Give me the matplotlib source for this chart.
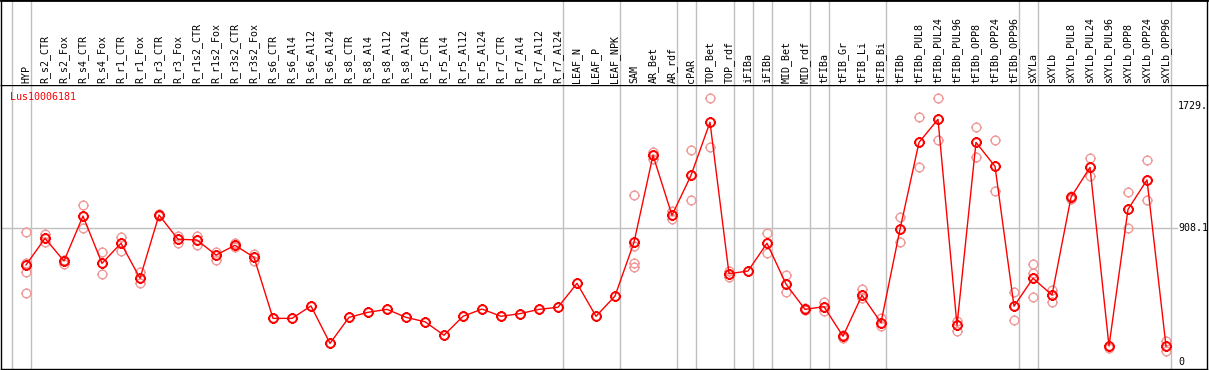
import matplotlib
matplotlib.use('Agg')
import matplotlib.pyplot as plt
from matplotlib.path import Path
import numpy as np

gene = "Lus10006181"

samples = [
    "HYP", "R_s2_CTR", "R_s2_Fox", "R_s4_CTR", "R_s4_Fox", "R_r1_CTR", "R_r1_Fox",
    "R_r3_CTR", "R_r3_Fox", "R_r1s2_CTR", "R_r1s2_Fox", "R_r3s2_CTR", "R_r3s2_Fox",
    "R_s6_CTR", "R_s6_Al4", "R_s6_Al12", "R_s6_Al24", "R_s8_CTR", "R_s8_Al4",
    "R_s8_Al12", "R_s8_Al24", "R_r5_CTR", "R_r5_Al4", "R_r5_Al12", "R_r5_Al24",
    "R_r7_CTR", "R_r7_Al4", "R_r7_Al12", "R_r7_Al24", "LEAF_N", "LEAF_P", "LEAF_NPK",
    "SAM", "AR_Bet", "AR_rdf", "cPAR", "TOP_Bet", "TOP_rdf", "iFIBa", "iFIBb",
    "MID_Bet", "MID_rdf", "tFIBa", "tFIB_Gr", "tFIB_Li", "tFIB_Bi", "tFIBb",
    "tFIBb_PUL8", "tFIBb_PUL24", "tFIBb_PUL96", "tFIBb_OPP8", "tFIBb_OPP24",
    "tFIBb_OPP96", "sXYLa", "sXYLb", "sXYLb_PUL8", "sXYLb_PUL24", "sXYLb_PUL96",
    "sXYLb_OPP8", "sXYLb_OPP24", "sXYLb_OPP96",
]

mean_expr = [
    656, 836, 683, 987, 667, 803, 566, 994, 830, 825, 723, 789, 708,
    295, 295, 379, 126, 302, 336, 356, 302, 272, 181, 309, 358,
    309, 327, 356, 370, 532, 309, 446,
    809, 1397, 992, 1262, 1621, 597, 615, 803, 527, 356, 374, 174, 451, 266,
    897, 1485, 1641, 248, 1485, 1323, 377,
    566, 453, 1114, 1316, 108, 1032, 1231, 108,
]

replicates = [
    [877, 671, 611, 464], [865, 809], [690, 663], [1061, 904], [742, 593],
    [843, 753], [611, 532], [999, 990], [852, 807], [854, 791], [742, 690],
    [803, 780], [730, 683],
    [], [], [], [], [], [], [], [], [], [], [], [], [], [], [], [], [], [], [],
    [1127, 786, 667, 644], [1422, 1375], [1021, 967], [1431, 1093], [1783, 1452],
    [615, 577], [], [870, 735], [586, 471], [362, 350], [408, 347], [162, 180],
    [496, 431], [295, 243],
    [978, 813], [1654, 1320], [1783, 1501], [279, 212], [1587, 1384], [1499, 1154],
    [473, 284],
    [661, 600, 441], [487, 408], [1105, 1122], [1377, 1260], [93], [1147, 908],
    [1364, 1095], [144, 76],
]

# last sample index of each group (separator lines)
group_ends = [-1, 0, 28, 31, 34, 35, 37, 38, 39, 41, 42, 45, 52, 53, 60]

ytick_vals = [0, 908.1, 1729]
ytick_labels = ["0", "908.1", "1729."]

W, H = 1209, 370
k = 0.1479            # px per unit
y0_px = 362           # pixel row of value 0
x0_px, dx_px = 26, 19  # pixel col of first sample, spacing

mono = "DejaVu Sans Mono"
fs = 7.2


def sun_marker(r_circle=0.8):
    circ = Path.circle((0, 0), r_circle)
    ticks = []
    for ang in np.deg2rad([0, 90, 180, 270]):
        c, s = np.cos(ang), np.sin(ang)
        ticks.append(Path([(r_circle * c, r_circle * s), (c, s)],
                          [Path.MOVETO, Path.LINETO]))
    return Path.make_compound_path(circ, *ticks)


marker = sun_marker()

fig = plt.figure(figsize=(W / 100, H / 100), dpi=100)

xlim = ((1 - x0_px) / dx_px, (1207 - x0_px) / dx_px)
ax = fig.add_axes([1 / W, 1 / H, 1206 / W, 284 / H])
ax_h = fig.add_axes([1 / W, 285 / H, 1206 / W, 85 / H], sharex=ax)

ax.set_xlim(*xlim)
ax.set_ylim((y0_px - 369) / k, (y0_px - 85) / k)
ax_h.set_ylim(0, 1)

for a in (ax, ax_h):
    a.set_xticks([])
    a.set_yticks([])
    for sp in a.spines.values():
        sp.set_color("black")
        sp.set_linewidth(1)
    for g in group_ends:
        a.axvline(g + 0.26, color="#c0c0c0", lw=1, zorder=0)
ax_h.spines["top"].set_linewidth(2)
ax_h.spines["bottom"].set_visible(False)

# horizontal grid at mid value only
ax.axhline(ytick_vals[1], xmin=0, xmax=(1177 - 1) / 1206, color="#c0c0c0", lw=1, zorder=0)

x = np.arange(len(samples))

rx, ry = [], []
for i, reps in enumerate(replicates):
    for v in reps:
        rx.append(i)
        ry.append(v)
ax.plot(rx, ry, linestyle="none", marker=marker, markersize=7.8,
        markerfacecolor="none", markeredgecolor="#f09a9a", markeredgewidth=1, zorder=2)

ax.plot(x, mean_expr, color="red", lw=1, zorder=3)
ax.plot(x, mean_expr, linestyle="none", marker=marker, markersize=7.8,
        markerfacecolor="none", markeredgecolor="red", markeredgewidth=1.4, zorder=4)

for i, name in enumerate(samples):
    ax_h.text(i, 2 / 85, name, rotation=90, ha="center", va="bottom",
              family=mono, fontsize=fs, color="black",
              transform=ax_h.get_xaxis_transform())

for v, lab in zip(ytick_vals, ytick_labels):
    ax.text((1178 - 1) / 1206, v, lab, ha="left", va="center", family=mono,
            fontsize=fs, color="black", transform=ax.get_yaxis_transform())

fig.text(10 / W, (H - 97) / H, gene, ha="left", va="center", family=mono,
         fontsize=fs, color="red")

fig.savefig("out.png", dpi=100)
